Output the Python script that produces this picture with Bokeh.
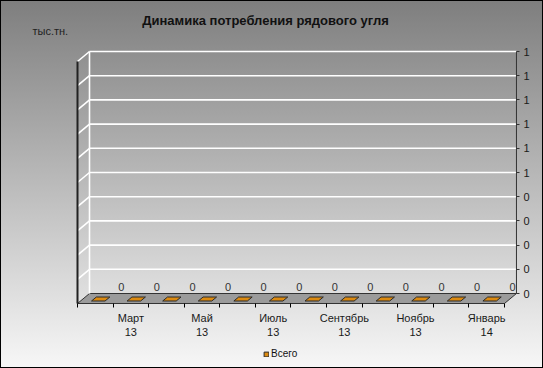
from bokeh.plotting import figure
from bokeh.models import FixedTicker, Label, Legend, LegendItem
from bokeh.core.properties import value
from bokeh.embed import file_html
from bokeh.resources import INLINE

# ---------------- data ----------------
months = ["Февраль", "Март", "Апрель", "Май", "Июнь", "Июль",
          "Август", "Сентябрь", "Октябрь", "Ноябрь", "Декабрь", "Январь"]
years = ["13", "13", "13", "13", "13", "13", "13", "13", "13", "13", "13", "14"]
values = [0, 0, 0, 0, 0, 0, 0, 0, 0, 0, 0, 0]
y_ticks = [0, 0.1, 0.2, 0.3, 0.4, 0.5, 0.6, 0.7, 0.8, 0.9, 1]
y_tick_labels = ["0", "0", "0", "0", "0", "1", "1", "1", "1", "1", "1"]
title_text = "Динамика потребления рядового угля"
unit_text = "тыс.тн."
series_name = "Всего"

# ---------------- geometry / style ----------------
W, H = 543, 368
FONT = "Liberation Sans"
X0_PX, Y0_PX = 77.0, 293.0   # page position of category 0 (front) / value 0 (back wall)
CAT_PX = 35.58               # pixels per category
VAL_PX = 242.0               # pixels per unit of value
DEPTH_X_PX = 12.0
DEPTH_Y_PX = 10.0
BAR_COLOR = "#DC8A10"


def X(px):
    return (px - X0_PX) / CAT_PX


def Y(py):
    return (Y0_PX - py) / VAL_PX


n = len(months)
dx = DEPTH_X_PX / CAT_PX
dy = DEPTH_Y_PX / VAL_PX

p = figure(width=W, height=H, x_range=(X(0), X(W)), y_range=(Y(H), Y(0)),
           y_axis_location="right", output_backend="svg", toolbar_location=None,
           title=None, min_border_left=0, min_border_right=0,
           min_border_top=0, min_border_bottom=0)
p.styles = {"background": "linear-gradient(to bottom, #7e7e7e 0%, #f7f7f7 100%)",
            "outline": "1px solid #000", "outline-offset": "-1px"}
p.border_fill_color = None
p.background_fill_color = None
p.outline_line_color = None
p.xgrid.visible = False
p.ygrid.visible = False

# floor
p.patch([0, n, n + dx, dx], [-dy, -dy, 0, 0], fill_color="#9b9b9b",
        line_color="#333333", line_width=1)

# back wall grid lines and left wall diagonals
grid_vals = [v for v in y_ticks if v > 0]
p.segment(x0=[dx] * len(grid_vals), y0=grid_vals, x1=[n + dx] * len(grid_vals), y1=grid_vals,
          line_color="white", line_width=1.6)
p.segment(x0=[0] * len(grid_vals), y0=[v - dy for v in grid_vals], x1=[dx] * len(grid_vals),
          y1=grid_vals, line_color="white", line_width=1.6)
p.segment(x0=[dx], y0=[0], x1=[dx], y1=[1], line_color="white", line_width=1.6)
# left wall front edge
p.segment(x0=[0], y0=[-dy], x1=[0], y1=[1 - dy], line_color="#222222", line_width=2)
# right axis line (back plane)
p.segment(x0=[n + dx], y0=[0], x1=[n + dx], y1=[1], line_color="#333333", line_width=1)

# bars (zero-height 3D bars -> flat top faces)
bw, t0, t1 = 0.38, 0.25, 0.65
xs, ys = [], []
for i, v in enumerate(values):
    xl, xr = i + 0.5 - bw / 2, i + 0.5 + bw / 2
    xs.append([xl + t0 * dx, xr + t0 * dx, xr + t1 * dx, xl + t1 * dx])
    ys.append([v - dy * (1 - t0), v - dy * (1 - t0), v - dy * (1 - t1), v - dy * (1 - t1)])
bars = p.patches(xs, ys, fill_color=BAR_COLOR, line_color="#2a2a2a", line_width=1)

# value labels
p.text(x=[i + 0.5 for i in range(n)], y=values, text=[str(v) for v in values],
       x_offset=26, y_offset=-7, text_align="center", text_baseline="middle",
       text_font=value(FONT), text_font_size="11px", text_color="#333333")

# x axis (drawn at the front edge of the floor)
xa = p.xaxis[0]
xa.fixed_location = -dy
label_pos = [i + 0.5 for i in range(1, n, 2)]
xa.ticker = FixedTicker(ticks=label_pos, minor_ticks=list(range(n + 1)))
xa.major_label_overrides = {i + 0.5: months[i] + "\n" + years[i] for i in range(1, n, 2)}
xa.axis_line_color = None
xa.major_tick_line_color = None
xa.major_tick_out = 0
xa.major_tick_in = 0
xa.minor_tick_out = 4
xa.minor_tick_in = 0
xa.minor_tick_line_color = "#000000"
xa.major_label_standoff = 4
xa.major_label_text_font = FONT
xa.major_label_text_font_size = "11px"
xa.major_label_text_color = "#1a1a1a"

# y axis (right side of the back wall)
ya = p.yaxis[0]
ya.fixed_location = n + dx
ya.ticker = FixedTicker(ticks=y_ticks)
ya.major_label_overrides = {t: l for t, l in zip(y_ticks, y_tick_labels)}
ya.axis_line_color = None
ya.major_tick_out = 3
ya.major_tick_in = 0
ya.major_tick_line_color = "#333333"
ya.minor_tick_line_color = None
ya.major_label_standoff = 4
ya.major_label_text_font = FONT
ya.major_label_text_font_size = "11px"
ya.major_label_text_color = "#1a1a1a"

# title and unit
p.add_layout(Label(x=X(265), y=Y(20), text=title_text,
                   text_align="center", text_baseline="middle", text_font=FONT,
                   text_font_size="13px", text_font_style="bold", text_color="#111111"))
p.add_layout(Label(x=X(32), y=Y(30), text=unit_text,
                   text_align="left", text_baseline="middle", text_font=FONT,
                   text_font_size="11px", text_color="#222222"))

# legend
legend = Legend(items=[LegendItem(label=series_name, renderers=[bars])],
                location=(263, 9), orientation="horizontal",
                background_fill_color=None, border_line_color=None,
                glyph_width=6, glyph_height=6, label_standoff=2, padding=0, margin=0,
                label_text_font=FONT, label_text_font_size="10px", label_height=10,
                label_text_color="#111111")
p.add_layout(legend)

open("out.html", "w").write(file_html(p, INLINE))
